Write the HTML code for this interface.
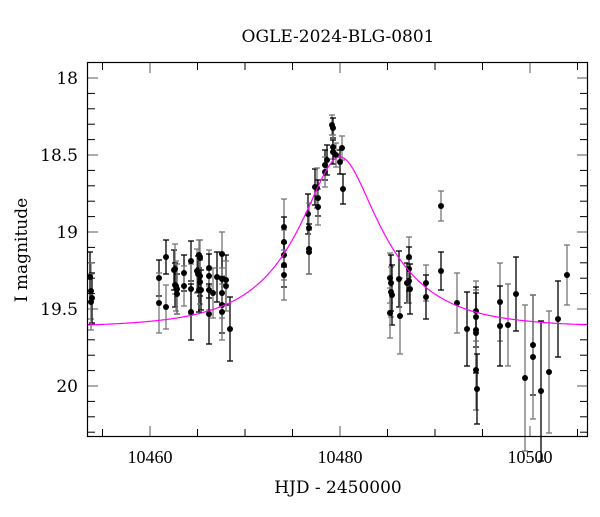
<!DOCTYPE html>
<html><head><meta charset="utf-8"><style>
html,body{margin:0;padding:0;background:#fff;}
svg text{font-family:"DejaVu Serif","Liberation Serif",serif;fill:#000;}
svg text.lib{font-family:"Liberation Serif","DejaVu Serif",serif;}
</style></head><body>
<svg id="s" width="600" height="512" xmlns="http://www.w3.org/2000/svg">
<text x="338" y="42" font-size="17" text-anchor="middle">OGLE-2024-BLG-0801</text>
<text x="338" y="493" font-size="17" text-anchor="middle">HJD - 2450000</text>
<text transform="translate(27,250) rotate(-90)" font-size="17" text-anchor="middle">I magnitude</text>
<g font-size="17" text-anchor="end">
<text x="78" y="84">18</text><text x="78" y="161">18.5</text><text x="78" y="238">19</text><text x="78" y="315">19.5</text><text x="78" y="392">20</text>
</g>
<g font-size="18" text-anchor="middle" class="lib">
<text class="lib" x="150" y="463">10460</text><text class="lib" x="340" y="463">10480</text><text class="lib" x="530" y="463">10500</text>
</g>
<g id="ax" stroke="#000" stroke-width="1" fill="none"></g>
<g id="data"></g>
<path id="curve" fill="none" stroke="#ff00ff" stroke-width="1.2"/>
<rect x="87.5" y="62.5" width="500" height="374" fill="none" stroke="#000" stroke-width="1.2"/>
</svg>
<script>
var ns="http://www.w3.org/2000/svg";
function el(p,t,a){var e=document.createElementNS(ns,t);for(var k in a)e.setAttribute(k,a[k]);p.appendChild(e);return e;}
var ax=document.getElementById('ax');
for(var i=-1;i<=23;i++){var y=78+i*15.4;if(y<63||y>436)continue;var maj=(i%5==0);
 var L=maj?10:7;
 el(ax,'line',{x1:88,y1:y,x2:88+L,y2:y,stroke:maj?'#555':'#000'});
 el(ax,'line',{x1:587,y1:y,x2:587-L,y2:y,stroke:maj?'#555':'#000'});}
for(var i=-2;i<=12;i++){var x=150+i*47.5;if(x<88||x>587)continue;var maj=(i%4==0);var L=maj?10:7;
 el(ax,'line',{x1:x,y1:436,x2:x,y2:436-L,stroke:maj?'#555':'#000'});
 el(ax,'line',{x1:x,y1:63,x2:x,y2:63+L,stroke:maj?'#555':'#000'});}
var d="";for(var x=88;x<=587;x+=1){var tau=(x-340)/82,u0=0.38,u=Math.sqrt(u0*u0+tau*tau);
 var A=(u*u+2)/(u*Math.sqrt(u*u+4));var m=19.62-2.5*Math.log10(A);var y=78+(m-18)*154;
 d+=(x==88?"M":"L")+x+" "+y.toFixed(1);}
document.getElementById('curve').setAttribute('d',d);
var pts=[[90,277,25],[91,291,28],[92,298,25],[91,302,28],
[159,278,18],[159,303,30],[166,257,17],[166,307,22],
[174,270,20],[175,269,25],[175,285,22],[176,286,25],[177,294,20],[177,289,25],
[184,273,18],[184,286,20],[191,261,20],[191,289,25],[191,312,28],
[197,271,22],[198,274,18],[199,255,15],[199,290,22],[200,258,18],[200,276,20],[200,282,22],[201,290,20],
[209,268,18],[209,276,22],[209,290,20],[209,314,30],[213,293,25],[217,277,25],
[222,254,22],[222,279,25],[222,293,25],[222,305,28],[222,312,28],[226,280,25],[226,286,25],[230,329,32],
[284,227,28],[284,242,25],[284,255,25],[284,265,22],[284,275,25],
[308,214,20],[309,228,25],[309,249,25],[309,252,22],
[315,187,18],[317,188,20],[318,198,18],[318,207,18],
[325,165,15],[325,172,15],[327,160,15],
[332,125,10],[333,128,10],[333,147,12],[333,152,12],[336,155,12],
[340,162,12],[342,148,12],[343,189,15],
[390,278,25],[391,283,28],[391,292,25],[392,295,30],[390,313,25],[399,279,28],[400,316,38],
[407,283,20],[409,257,20],[409,269,22],[409,281,22],[410,289,25],
[426,283,18],[426,297,22],[441,206,15],[441,271,19],
[457,303,30],[467,329,37],[476,311,30],[476,317,30],[476,330,40],[476,333,40],[476,370,40],[477,389,35],
[500,302,39],[500,326,40],[508,325,41],[516,294,37],[525,378,73],[533,345,50],[533,357,62],
[541,391,70],[549,372,61],[558,319,38],[567,275,30]];
var g=document.getElementById('data');
pts.forEach(function(p,i){var c=(i%2)?'#777':'#000';var x=p[0],y=p[1],e=p[2];
 el(g,'line',{x1:x,y1:y-e,x2:x,y2:y+e,stroke:c,'stroke-width':1.3});
 el(g,'line',{x1:x-3,y1:y-e,x2:x+3,y2:y-e,stroke:c,'stroke-width':1.3});
 el(g,'line',{x1:x-3,y1:y+e,x2:x+3,y2:y+e,stroke:c,'stroke-width':1.3});
});
pts.forEach(function(p){el(g,'circle',{cx:p[0],cy:p[1],r:3,fill:'#000'});});
</script>
</body></html>
